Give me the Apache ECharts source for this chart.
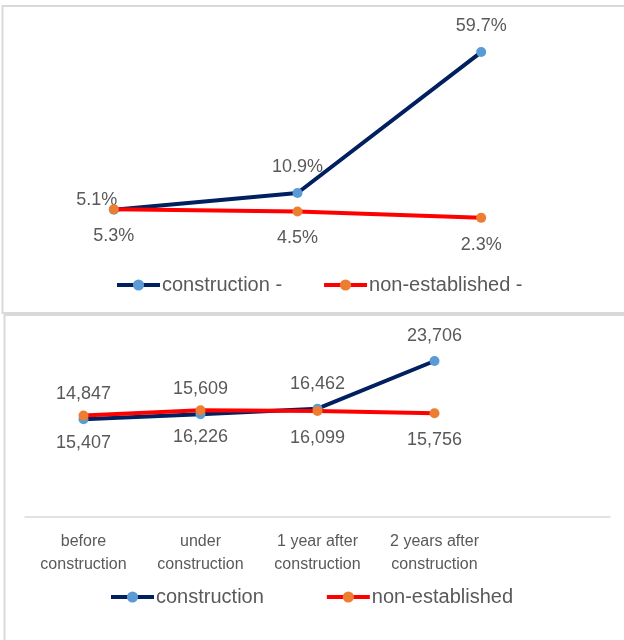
<!DOCTYPE html>
<html>
<head>
<meta charset="utf-8">
<script src="https://cdn.jsdelivr.net/npm/echarts@6/dist/echarts.min.js"></script>
<style>
  html, body { margin: 0; padding: 0; background: #ffffff; }
  #chart { width: 624px; height: 640px; }
</style>
</head>
<body>
<div id="chart"></div>
<script>
// Share of cases (%) — upper panel, three time points
const shareCategories = ['before construction', 'under construction', '1 year after construction'];
const shareConstruction = [5.1, 10.9, 59.7];
const shareNonEstablished = [5.3, 4.5, 2.3];

// Counts — lower panel, four time points (fifth slot left empty)
const countCategories = ['before\nconstruction', 'under\nconstruction', '1 year after\nconstruction', '2 years after\nconstruction', ''];
const countConstruction = [14847, 15609, 16462, 23706, null];
const countNonEstablished = [15407, 16226, 16099, 15756, null];

const NAVY = '#002060';
const SKY = '#5B9BD5';
const RED = '#FF0000';
const ORANGE = '#ED7D31';
const TEXT = '#595959';
const FONT = 'Liberation Sans';

const chart = echarts.init(document.getElementById('chart'), null, { renderer: 'canvas' });

function fmtPct(p) { return p.value.toFixed(1) + '%'; }
function fmtCount(p) { return p.value == null ? '' : p.value.toLocaleString('en-US'); }

// the first upper label sits up-left of its marker
function withLabelShift(values, shifts) {
  return values.map((v, i) => shifts[i] ? { value: v, label: { offset: shifts[i] } } : v);
}

const labelBase = { show: true, color: TEXT, fontFamily: FONT, fontSize: 18 };

const legendBase = {
  itemWidth: 43, itemHeight: 14,
  lineStyle: { width: 4 },
  textStyle: { color: TEXT, fontFamily: FONT, fontSize: 20, padding: [0, 0, 0, -3] }
};

const option = {
  animation: false,
  backgroundColor: '#ffffff',
  graphic: [
    { type: 'rect', shape: { x: 2.5, y: 6, width: 640, height: 307 }, style: { fill: 'none', stroke: '#d9d9d9', lineWidth: 2 }, z: -1 },
    { type: 'rect', shape: { x: 4.5, y: 315, width: 640, height: 340 }, style: { fill: 'none', stroke: '#d9d9d9', lineWidth: 2 }, z: -1 }
  ],
  grid: [
    { left: 22, right: 51, top: 22.3, bottom: 415.5 },
    { left: 25, right: 14, top: 319.6, bottom: 123 }
  ],
  xAxis: [
    { type: 'category', gridIndex: 0, data: shareCategories, show: false, boundaryGap: true },
    {
      type: 'category', gridIndex: 1, data: countCategories, boundaryGap: true,
      axisLine: { lineStyle: { color: '#d9d9d9', width: 1.5 } },
      axisTick: { show: false },
      axisLabel: { color: TEXT, fontFamily: FONT, fontSize: 16, lineHeight: 23, margin: 13, interval: 0 }
    }
  ],
  yAxis: [
    { type: 'value', gridIndex: 0, min: 0, max: 70, show: false },
    { type: 'value', gridIndex: 1, min: 0, max: 30000, show: false }
  ],
  legend: [
    Object.assign({ data: ['construction -', 'non-established -'], left: 110, top: 270, itemGap: 40 }, legendBase),
    Object.assign({ data: ['construction', 'non-established'], left: 104, top: 582, itemGap: 61 }, legendBase)
  ],
  series: [
    {
      name: 'construction -', type: 'line', xAxisIndex: 0, yAxisIndex: 0,
      data: withLabelShift(shareConstruction, [[-17, 16], null, null]),
      symbol: 'circle', symbolSize: 10,
      lineStyle: { color: NAVY, width: 4 }, itemStyle: { color: SKY },
      label: Object.assign({ position: 'top', distance: 12, formatter: fmtPct }, labelBase),
      z: 2
    },
    {
      name: 'non-established -', type: 'line', xAxisIndex: 0, yAxisIndex: 0,
      data: shareNonEstablished,
      symbol: 'circle', symbolSize: 10,
      lineStyle: { color: RED, width: 4 }, itemStyle: { color: ORANGE },
      label: Object.assign({ position: 'bottom', distance: 13, formatter: fmtPct }, labelBase),
      z: 3
    },
    {
      name: 'construction', type: 'line', xAxisIndex: 1, yAxisIndex: 1,
      data: countConstruction,
      symbol: 'circle', symbolSize: 10,
      lineStyle: { color: NAVY, width: 4 }, itemStyle: { color: SKY },
      label: Object.assign({ position: 'top', distance: 11, formatter: fmtCount }, labelBase),
      z: 2
    },
    {
      name: 'non-established', type: 'line', xAxisIndex: 1, yAxisIndex: 1,
      data: countNonEstablished,
      symbol: 'circle', symbolSize: 10,
      lineStyle: { color: RED, width: 4 }, itemStyle: { color: ORANGE },
      label: Object.assign({ position: 'bottom', distance: 13, formatter: fmtCount }, labelBase),
      z: 3
    }
  ]
};

chart.setOption(option);
</script>
</body>
</html>
